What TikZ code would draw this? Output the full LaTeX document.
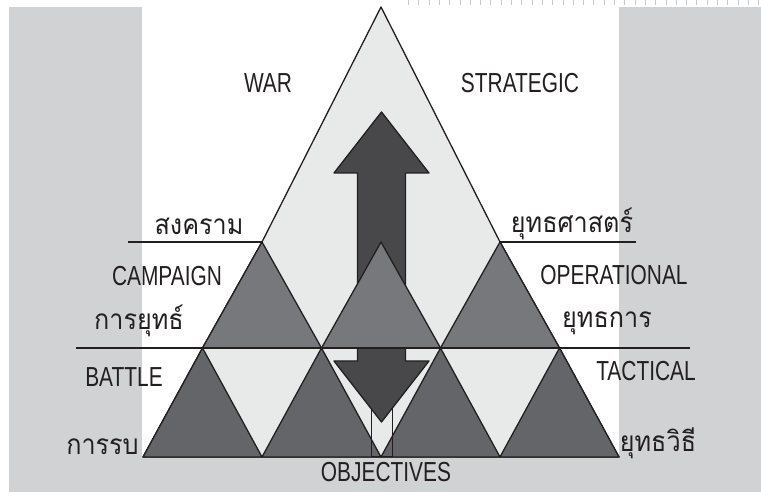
\documentclass[tikz,border=0pt]{standalone}
\usepackage{fontspec}
\setmainfont{Liberation Sans}[FakeStretch=0.76]
\newfontfamily\thaifont[Script=Thai,FakeStretch=0.9]{Loma}
\usetikzlibrary{positioning}

\definecolor{panel}{HTML}{D1D2D4}
\definecolor{pale}{HTML}{E8E9E9}
\definecolor{midgray}{HTML}{77787B}
\definecolor{lowgray}{HTML}{646568}
\definecolor{arrowgray}{HTML}{48484A}
\definecolor{ink}{HTML}{231F20}
\definecolor{tickgray}{HTML}{C8C9CB}

\tikzset{
	lbl/.style={font=\fontsize{27.5}{30}\selectfont,text=ink,inner sep=0pt,anchor=base},
	thai/.style={font=\thaifont\fontsize{28}{30}\selectfont,text=ink,inner sep=0pt,anchor=base},
	tri/.style={draw=ink,line width=1.3pt,line join=round},
	rule/.style={draw=ink,line width=1.8pt}
}

\begin{document}
\begin{tikzpicture}[scale=1]
	\useasboundingbox (0pt,0pt) rectangle (761pt,502pt);
	
	% page background
	\fill[panel] (9pt,10pt) rectangle (761pt,495pt);
	\fill[white] (142pt,45pt) rectangle (619pt,495pt);
	\draw[draw=tickgray,line width=5pt,dash pattern=on 1pt off 9.3pt] (408pt,499.5pt)--(761pt,499.5pt);
	
	% lattice points
	\coordinate (top) at (381pt,495pt);
	\coordinate (l1) at (262pt,260pt);
	\coordinate (m1) at (381pt,260pt);
	\coordinate (r1) at (500pt,260pt);
	\coordinate (l2) at (202.5pt,154pt);
	\coordinate (m2a) at (321.5pt,154pt);
	\coordinate (m2b) at (440.5pt,154pt);
	\coordinate (r2) at (559.5pt,154pt);
	\coordinate (b0) at (143pt,45pt);
	\coordinate (b1) at (262pt,45pt);
	\coordinate (b2) at (381pt,45pt);
	\coordinate (b3) at (500pt,45pt);
	\coordinate (b4) at (619pt,45pt);
	
	% big triangle
	\draw[tri,fill=pale] (top)--(l1)--(l2)--(b0)--(b4)--(r2)--(r1)--cycle;
	
	% bottom row
	\draw[tri,fill=lowgray] (b0)--(b1)--(l2)--cycle;
	\draw[tri,fill=lowgray] (b1)--(b2)--(m2a)--cycle;
	\draw[tri,fill=lowgray] (b2)--(b3)--(m2b)--cycle;
	\draw[tri,fill=lowgray] (b3)--(b4)--(r2)--cycle;
	\draw[draw=ink,line width=1pt] (371.5pt,102pt) rectangle (392.5pt,45pt);
	
	% double arrow
	\draw[tri,fill=arrowgray] (381.5pt,390pt)--(429pt,329pt)--(405.5pt,329pt)--(405.5pt,141pt)--(429pt,141pt)--(381.5pt,80pt)
		--(334pt,141pt)--(357.5pt,141pt)--(357.5pt,329pt)--(334pt,329pt)--cycle;
	
	% middle row
	\draw[tri,fill=midgray] (l2)--(m2a)--(l1)--cycle;
	\draw[tri,fill=midgray] (m2a)--(m2b)--(m1)--cycle;
	\draw[tri,fill=midgray] (m2b)--(r2)--(r1)--cycle;
	
	% level rules
	\coordinate (w1) at (128pt,260pt);
	\coordinate (e1) at (636pt,260pt);
	\coordinate (w2) at (76pt,154pt);
	\coordinate (e2) at (690pt,154pt);
	\draw[rule] (w1)--(l1);
	\draw[rule] (r1)--(e1);
	\draw[rule] (w2)--(e2);
	
	% labels
	\node[lbl] (war) at (268pt,409pt){WAR};
	\node[lbl] (strat) at (520pt,409pt){STRATEGIC};
	\node[thai] (war-th) at (199pt,267pt){สงคราม};
	\node[thai] (strat-th) at (572pt,269pt){ยุทธศาสตร์};
	\node[lbl] (camp) at (167pt,216pt){CAMPAIGN};
	\node[lbl] (oper) at (614pt,217pt){OPERATIONAL};
	\node[thai] (camp-th) at (139pt,172pt){การยุทธ์};
	\node[thai] (oper-th) at (607pt,174pt){ยุทธการ};
	\node[lbl] (batt) at (124pt,115pt){BATTLE};
	\node[lbl] (tact) at (646pt,121pt){TACTICAL};
	\node[thai] (batt-th) at (102.5pt,47pt){การรบ};
	\node[thai] (tact-th) at (658pt,50pt){ยุทธวิธี};
	\node[lbl] (obj) at (386pt,20pt){OBJECTIVES};
\end{tikzpicture}
\end{document}
